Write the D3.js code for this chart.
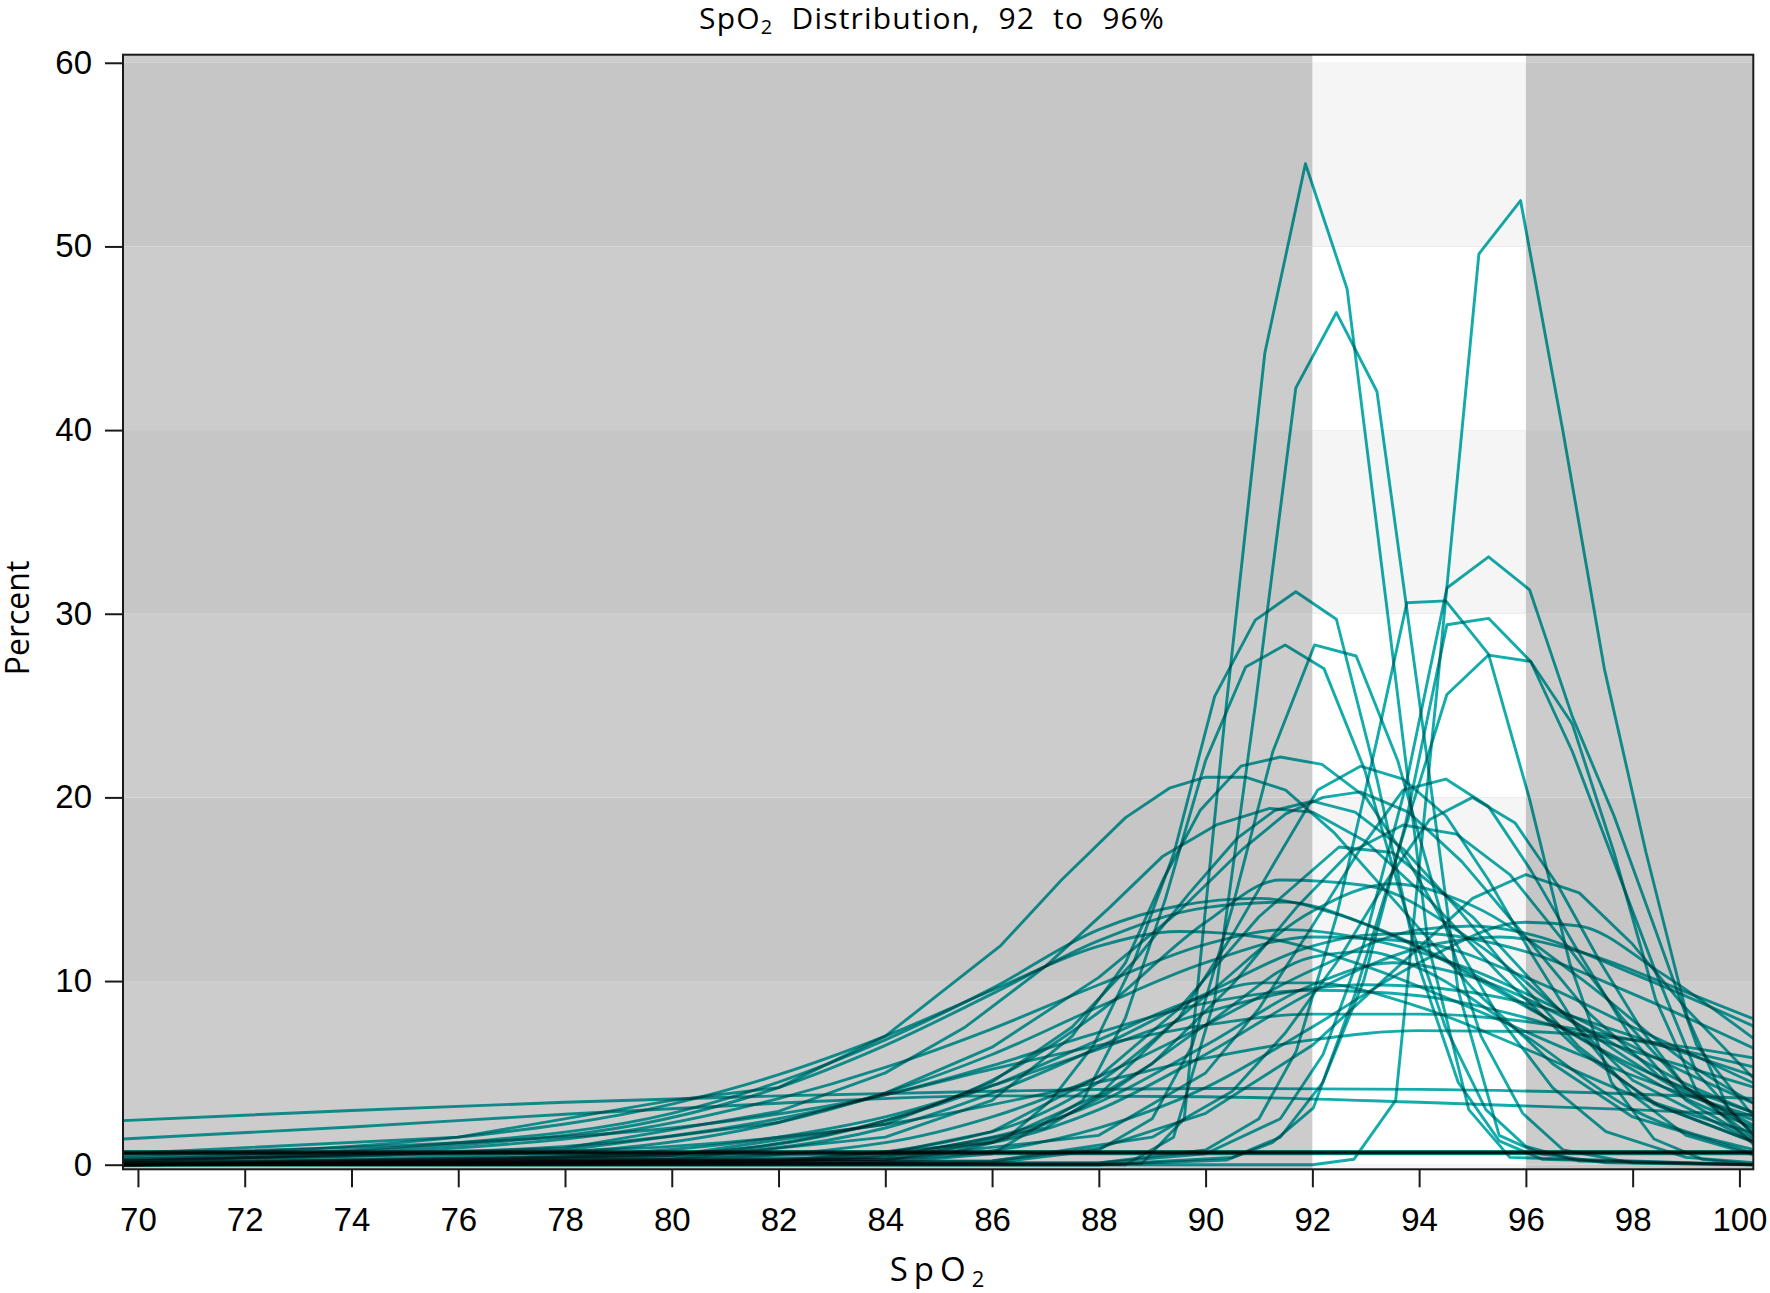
<!DOCTYPE html>
<html>
<head>
<meta charset="utf-8">
<script src="https://cdn.jsdelivr.net/npm/d3@7"></script>
<style>
  body { margin: 0; background: #fff; }
  svg { display: block; font-family: "Open Sans", sans-serif; }
  .curve { fill: none; stroke: #14abab; stroke-width: 2.9; mix-blend-mode: multiply; stroke-linejoin: round; }
  .axis path { display: none; }
  .axis line { stroke: #1a1a1a; stroke-width: 2; }
  .axis text { font-size: 33px; fill: #000; }
</style>
</head>
<body>
<svg id="chart" width="1770" height="1293"></svg>
<script>
// tick labels
var xTicks = [70, 72, 74, 76, 78, 80, 82, 84, 86, 88, 90, 92, 94, 96, 98, 100];
var yTicks = [0, 10, 20, 30, 40, 50, 60];
var targetRange = [92, 96];
var bandEdges = [-10, 0, 10, 20, 30, 40, 50, 60, 70];

// very wide, low distributions
var wideCurves = [
  [[69.7,2.4],[74,2.95],[78,3.4],[82,3.75],[86,4.0],[90,4.15],[94,4.1],[98,3.85],[100.3,3.6]],
  [[69.7,1.4],[74,2.05],[78,2.75],[82,3.35],[86,3.75],[90,3.7],[94,3.4],[98,3.0],[100.3,2.7]],
  [[69.7,0.3],[76,0.6],[80,1.0],[84,2.2],[88,4.5],[90,5.8],[92,6.8],[94,7.3],[96,7.25],[98,6.8],[100.3,5.8]],
  [[69.7,0.6],[76,1.2],[80,2.0],[84,3.8],[86,5.2],[88,6.5],[90,7.6],[92,8.2],[94,8.2],[96,7.8],[98,6.8],[100.3,5.3]],
  [[69.7,0.1],[78,0.5],[82,1.5],[84,2.6],[86,4.3],[88,6.3],[90,8.3],[92,9.6],[93,9.8],[94,9.7],[96,8.8],[98,7.0],[100.3,4.8]],
  [[69.7,0.2],[78,1.0],[82,2.5],[84,3.8],[86,5.4],[88,7.2],[90,8.8],[92,9.5],[94,9.2],[96,8.0],[98,6.2],[100.3,4.2]],
  [[69.7,0.1],[80,0.6],[84,2.4],[86,4.3],[88,6.8],[90,9.2],[91,9.9],[92,9.9],[94,8.6],[96,6.3],[98,3.8],[100.3,1.7]]
];

// medium distributions, peaks 10 to 16
var midCurves = [
  [[69.7,0.05],[80,0.3],[84,1.2],[86,2.6],[88,4.8],[90,7.6],[92,10.6],[94,12.8],[95,13.0],[96,12.6],[98,10.4],[100.3,7.5]],
  [[69.7,0],[80,0.5],[84,2.0],[86,3.9],[88,6.4],[90,9.3],[92,11.9],[93,12.5],[94,12.6],[96,11.6],[98,9.3],[100.3,6.3]],
  [[69.7,0.1],[78,0.7],[82,2.3],[84,3.9],[86,6.0],[88,8.6],[90,11.0],[92,12.4],[94,12.1],[96,10.2],[98,7.5],[100.3,4.4]],
  [[69.7,0.2],[78,1.4],[82,3.6],[84,5.3],[86,7.4],[88,9.8],[90,12.0],[91.5,12.8],[93,12.3],[95,10.6],[97,7.9],[99,5.0],[100.3,3.3]],
  [[69.7,0.05],[80,0.6],[84,2.4],[86,4.6],[88,8.3],[90,13.2],[91.4,15.5],[93,15.2],[95,12.2],[97,7.6],[99,3.9],[100.3,2.4]],
  [[69.7,0],[82,0.3],[86,1.8],[88,4.5],[90,9.2],[92,13.8],[93.5,15.3],[95,14.1],[97,10.2],[99,5.6],[100.3,3.3]],
  [[69.7,0.3],[78,1.6],[82,4.2],[84,6.5],[86,9.3],[88,12.2],[90,14.0],[91.5,14.3],[93,13.1],[95,10.4],[97,6.9],[99,3.6],[100.3,2.0]],
  [[69.7,0.5],[76,1.5],[80,3.3],[82,4.9],[84,7.0],[86,9.5],[88,11.9],[89.5,12.7],[91,12.4],[93,10.8],[95,8.5],[97,6.0],[99,3.8],[100.3,2.6]],
  [[69.7,0],[82,0.2],[86,1.2],[88,3.0],[90,6.0],[92,9.4],[94,11.8],[95.5,12.4],[97,11.6],[99,9.4],[100.3,7.9]],
  [[69.7,0.4],[76,1.2],[80,2.8],[82,4.5],[84,6.8],[86,9.6],[88,12.8],[89.5,14.1],[91,14.5],[92.5,13.6],[94,11.8],[96,8.6],[98,5.4],[100.3,2.8]],
  [[69.7,0],[84,0.3],[86,1.2],[88,3.6],[90,7.6],[92,11.3],[93,11.6],[94,10.7],[96,7.0],[98,3.0],[100.3,0.8]],
  [[69.7,0],[84,0.3],[88,2.0],[90,4.2],[92,7.5],[94,11.0],[96,13.2],[97,13.0],[98.5,10.5],[100.3,6.8]],
  [[69.7,0],[82,0.2],[86,1.5],[88,3.4],[90,6.5],[92,9.8],[93.5,11.0],[95,10.2],[97,7.6],[99,4.4],[100.3,2.8]]
];

// distributions peaking near 20
var highCurves = [
  [[69.7,0.6],[76,1.5],[80,3.5],[82,4.2],[84,7.0],[86.15,11.9],[87.3,15.5],[88.5,18.9],[89.32,20.5],[90.0,21.1],[90.75,21.1],[91.5,20.4],[92.4,18.1],[93.5,14.5],[95,9.6],[96.5,5.5],[98,2.6],[100.3,0.6]],
  [[69.7,0],[80,0.3],[84,1.5],[86,3.5],[87.5,7],[88.5,11],[89.2,15.5],[89.9,19.3],[90.66,21.7],[91.4,22.2],[92.18,21.8],[93.0,20.0],[93.8,16.5],[94.6,12.5],[95.5,8],[96.5,4.2],[97.5,1.8],[99,0.4],[100.3,0.1]],
  [[69.7,0.2],[78,0.8],[82,2.3],[84,3.9],[86,6.4],[88,10.2],[89.5,13.8],[90.7,17.2],[91.5,19.1],[92.2,20.0],[92.9,20.3],[93.8,19.2],[94.8,16.5],[96,12.4],[97.2,8.2],[98.5,4.8],[100.3,2.1]],
  [[69.7,0],[82,0.2],[86,1.2],[88,3.8],[89.5,8],[90.5,12.5],[91.3,16.5],[92.1,20.4],[92.9,21.7],[93.7,21.0],[94.5,19.0],[95.3,15.5],[96.1,11.5],[97,7.3],[98,3.8],[99,1.6],[100.3,0.5]],
  [[69.7,0],[84,0.3],[88,1.6],[90,5],[91,8.5],[92,13],[92.9,17.2],[93.7,20.4],[94.5,21.0],[95.3,19.5],[96.1,16.0],[97,11.5],[98,6.8],[99,3.5],[100.3,1.3]],
  [[69.7,0],[86,0.2],[89,1.5],[90.5,4],[91.5,7.2],[92.5,11.2],[93.4,15.5],[94.2,18.8],[95.0,20.0],[95.8,18.6],[96.6,15.2],[97.4,11],[98.2,7.2],[99,4.2],[100.3,1.4]],
  [[69.7,0.1],[80,0.5],[84,2.2],[86,4.5],[87.5,7.5],[88.7,11.2],[89.7,14.8],[90.6,17.8],[91.3,19.3],[92,19.8],[92.8,19.2],[93.7,17.2],[94.7,14],[95.8,10.2],[97,6.4],[98.4,3.3],[100.3,1.2]],
  [[69.7,0],[84,0.4],[87,2],[89,5.5],[90.5,9.8],[91.7,14],[92.7,17],[93.7,18.5],[94.7,18.0],[95.7,15.8],[96.7,12.2],[97.8,8.0],[99,4.2],[100.3,1.8]],
  [[69.7,0.2],[78,0.9],[82,2.9],[84,5],[85.5,7.5],[87,10.8],[88.2,14],[89.2,16.8],[90.2,18.5],[91.2,19.4],[92,19.2],[93,17.6],[94.2,14.4],[95.5,10.4],[97,6.2],[98.5,3.2],[100.3,1.2]],
  [[69.7,0],[84,0.6],[86,1.8],[88,4.8],[89.5,8.5],[91,13.5],[92.5,17.3],[93.5,17.0],[95,13.5],[96.5,8.8],[98,4.6],[100.3,1.2]],
  [[69.7,0],[86,0.2],[88,0.9],[90,2.8],[92,6.5],[93.5,10.5],[95,14.5],[96,15.8],[97,14.8],[98,12],[99,8.5],[100.3,4.6]]
];

// narrow, tall distributions
var peakCurves = [
  [[69.7,0],[88.8,0.05],[89.6,2.5],[90.35,24],[91.11,44.2],[91.87,54.5],[92.65,47.7],[93.41,30],[94.17,12],[94.93,3],[95.7,0.4],[100.3,0]],
  [[69.7,0],[88.5,0],[89.4,1.5],[90.17,9],[90.93,25],[91.69,42.3],[92.45,46.4],[93.21,42.1],[93.97,26],[94.73,9.5],[95.5,1.6],[96.27,0.6],[97.5,0.1],[100.3,0]],
  [[69.7,0],[92.0,0],[92.78,0.3],[93.56,3.5],[94.34,26],[95.12,49.6],[95.9,52.5],[96.69,40.0],[97.47,27],[98.25,17],[99.03,8],[99.8,3],[100.3,1.5]],
  [[69.7,0],[84,0.2],[86.3,1.5],[87.1,3.5],[87.9,6.5],[88.65,11],[89.41,17],[90.17,25.5],[90.93,29.65],[91.69,31.2],[92.45,29.7],[93.21,21],[93.97,11],[94.73,4.5],[95.5,1.3],[96.3,0.3],[100.3,0]],
  [[69.7,0],[84,0.1],[86,0.6],[87.7,3.5],[88.5,8],[89.25,14.5],[90.0,22],[90.75,27.1],[91.49,28.3],[92.22,27.0],[92.98,21.5],[93.73,14],[94.49,7.5],[95.25,3],[96,1],[97,0.2],[100.3,0]],
  [[69.7,0],[86,0.1],[88,0.8],[89.0,2.5],[89.75,6.5],[90.5,14],[91.26,22.5],[92.04,28.3],[92.82,27.7],[93.6,22],[94.38,14],[95.16,7],[95.94,2.8],[96.7,0.8],[98,0.1],[100.3,0]],
  [[69.7,0],[88,0.1],[90,0.8],[91.0,2.5],[91.7,6.2],[92.45,13.5],[93.2,23],[93.77,30.6],[94.5,30.7],[95.3,27.8],[96.06,20],[96.82,11],[97.6,4.5],[98.4,1.4],[99.3,0.3],[100.3,0]],
  [[69.7,0],[88,0.1],[90,0.6],[91.4,2.5],[92.2,6],[92.96,12],[93.74,20.5],[94.52,31.4],[95.3,33.1],[96.07,31.3],[96.87,24.4],[97.65,19],[98.4,13],[99.2,6.5],[100.3,2.5]],
  [[69.7,0],[88,0],[90.5,0.4],[91.4,1.5],[92.2,4.5],[92.96,10],[93.74,18.5],[94.52,29.4],[95.3,29.75],[96.09,27.4],[96.87,22.5],[97.65,16.5],[98.43,10.5],[99.2,5],[100.3,1.5]],
  [[69.7,0],[88,0],[90.4,0.26],[91.25,1.2],[92.02,3.1],[92.8,9.3],[93.76,18.5],[94.52,25.6],[95.3,27.75],[96.09,27.4],[96.87,24],[97.65,17],[98.43,9],[99.2,4],[100.3,1]]
];

// flat near-zero distributions
var flatCurves = [
  [[69.7,0.6],[100.3,0.6]],
  [[69.7,0.63],[100.3,0.63]],
  [[69.7,0.65],[100.3,0.65]],
  [[69.7,0.68],[100.3,0.68]],
  [[69.7,0.7],[100.3,0.7]],
  [[69.7,0.72],[100.3,0.72]],
  [[69.7,0.62],[100.3,0.66]]
];

var svg = d3.select("#chart");

var x = d3.scaleLinear().domain([69.72, 100.26]).range([123, 1753.3]);
var y = d3.scaleLinear().domain([-0.25, 60.44]).range([1169.3, 54.7]);
var plotL = x.range()[0], plotR = x.range()[1], plotT = y.range()[1], plotB = y.range()[0];

svg.append("clipPath").attr("id", "plotClip")
  .append("rect")
    .attr("x", plotL).attr("y", plotT)
    .attr("width", plotR - plotL).attr("height", plotB - plotT);

var plot = svg.append("g").attr("clip-path", "url(#plotClip)");

// background stripes, target range drawn lighter
var bands = d3.pairs(bandEdges);
bands.forEach(function (b, i) {
  var dark = i % 2 === 0;
  plot.append("rect")
    .attr("x", plotL).attr("width", plotR - plotL)
    .attr("y", y(b[1])).attr("height", y(b[0]) - y(b[1]))
    .attr("fill", dark ? "#c6c6c6" : "#cccccc");
  plot.append("rect")
    .attr("x", x(targetRange[0])).attr("width", x(targetRange[1]) - x(targetRange[0]))
    .attr("y", y(b[1])).attr("height", y(b[0]) - y(b[1]))
    .attr("fill", dark ? "#f5f5f5" : "#ffffff");
});

// smooth for the broad curves, straight segments for the rest
var smoothLine = d3.line()
  .curve(d3.curveMonotoneX)
  .x(function (d) { return x(d[0]); })
  .y(function (d) { return y(d[1]); });
var straightLine = d3.line()
  .x(function (d) { return x(d[0]); })
  .y(function (d) { return y(d[1]); });

plot.selectAll("path.flat")
    .data(flatCurves)
  .enter().append("path")
    .attr("class", "curve flat")
    .attr("d", straightLine);

plot.selectAll("path.broad")
    .data(wideCurves.concat(midCurves))
  .enter().append("path")
    .attr("class", "curve broad")
    .attr("d", smoothLine);

plot.selectAll("path.narrow")
    .data(highCurves.concat(peakCurves))
  .enter().append("path")
    .attr("class", "curve narrow")
    .attr("d", straightLine);

// frame
svg.append("rect")
  .attr("x", plotL).attr("y", plotT)
  .attr("width", plotR - plotL).attr("height", plotB - plotT)
  .attr("fill", "none").attr("stroke", "#1a1a1a").attr("stroke-width", 2);

// axes
svg.append("g").attr("class", "axis")
  .attr("transform", "translate(" + plotL + ",0)")
  .call(d3.axisLeft(y).tickValues(yTicks).tickSize(18).tickPadding(13));

svg.append("g").attr("class", "axis")
  .attr("transform", "translate(0," + plotB + ")")
  .call(d3.axisBottom(x).tickValues(xTicks).tickSize(18).tickPadding(20));

// titles
var title = svg.append("text")
  .attr("x", 932).attr("y", 29)
  .attr("text-anchor", "middle")
  .style("font-size", "30px").style("letter-spacing", "1.2px").style("word-spacing", "9px");
title.append("tspan").text("SpO");
title.append("tspan").attr("dy", 5).style("font-size", "20px").text("2");
title.append("tspan").attr("dy", -5).text(" Distribution, 92 to 96%");

var xlab = svg.append("text")
  .attr("x", 940).attr("y", 1281)
  .attr("text-anchor", "middle")
  .style("font-size", "33px").style("letter-spacing", "6px");
xlab.append("tspan").text("SpO");
xlab.append("tspan").attr("dy", 6).style("font-size", "22px").text("2");

svg.append("text")
  .attr("transform", "translate(29,618) rotate(-90)")
  .attr("text-anchor", "middle")
  .style("font-size", "32px")
  .text("Percent");
</script>
</body>
</html>
